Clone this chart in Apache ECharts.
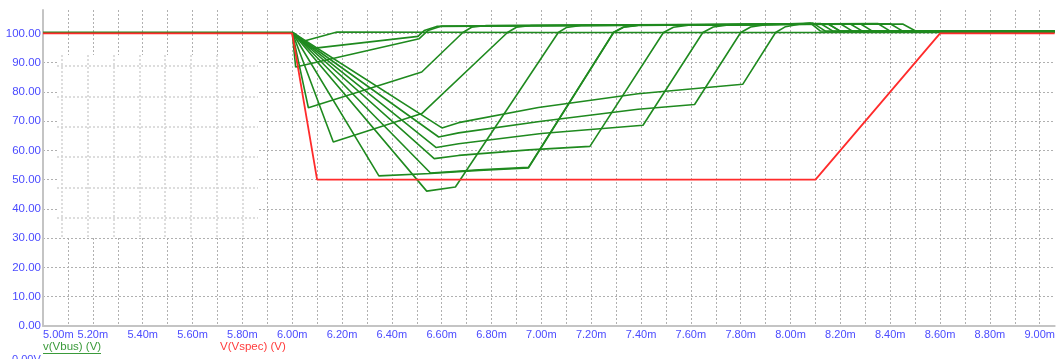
<!DOCTYPE html>
<html>
<head>
<meta charset="utf-8">
<script src="https://cdn.jsdelivr.net/npm/echarts@6/dist/echarts.min.js"></script>
<style>
  html, body { margin: 0; padding: 0; background: #ffffff; }
  #chart { width: 1058px; height: 359px; }
</style>
</head>
<body>
<div id="chart"></div>
<script>
// Trace names shown under the time axis
const traceNames = ['v(Vbus) (V)', 'V(Vspec) (V)'];

// Time axis (ms) and voltage axis (V)
const timeRange = [5.00, 9.06];
const timeStep = 0.1;
const voltRange = [0, 108];
const voltStep = 10;

// Bus voltage before the disturbance
const vbusPre = [[5.00, 100.4], [6.00, 100.4]];

// Bus voltage runs of the sweep, [time ms, volts]
const runA = [[6.00, 100.4], [6.048, 97.4], [6.18, 100.5], [7.00, 100.3], [9.06, 100.3]];
const runB = [[6.00, 100.4], [6.075, 94.8], [6.505, 99.0], [6.53, 101.0], [6.58, 102.4], [7.40, 102.8], [8.45, 103.2], [8.50, 100.9], [9.06, 100.8]];
const runC = [[6.00, 100.4], [6.014, 88.5], [6.51, 98.2], [6.545, 101.0], [6.60, 102.5], [7.60, 102.9], [8.40, 103.3], [8.45, 100.8], [9.06, 100.7]];
const runD = [[6.00, 100.4], [6.065, 74.6], [6.52, 86.8], [6.685, 100.3], [6.72, 102.1], [6.78, 102.7], [8.35, 103.4], [8.40, 100.8], [9.06, 100.7]];
const runE = [[6.00, 100.4], [6.165, 62.9], [6.52, 72.6], [6.864, 100.3], [6.90, 102.1], [6.96, 102.7], [8.28, 103.3], [8.33, 100.7], [9.06, 100.6]];
const runF = [[6.00, 100.4], [6.348, 51.3], [6.555, 52.1], [6.75, 53.2], [6.948, 54.0], [7.29, 100.3], [7.33, 102.1], [7.39, 102.7], [8.20, 103.3], [8.25, 100.7], [9.06, 100.6]];
const runG = [[6.00, 100.4], [6.54, 46.1], [6.655, 47.5], [7.068, 100.3], [7.10, 102.0], [7.16, 102.7], [8.24, 103.2], [8.29, 100.7], [9.06, 100.6]];
const runL = [[6.00, 100.4], [6.555, 52.3], [6.75, 53.4], [6.948, 54.2], [7.29, 100.4], [7.33, 102.2], [7.39, 102.8], [8.15, 103.3], [8.20, 100.8], [9.06, 100.7]];
const runK = [[6.00, 100.4], [6.57, 57.2], [6.668, 58.3], [6.95, 60.2], [7.195, 61.4], [7.49, 100.3], [7.53, 102.1], [7.59, 102.8], [8.15, 103.3], [8.20, 100.7], [9.06, 100.6]];
const runJ = [[6.00, 100.4], [6.578, 61.0], [6.668, 62.3], [7.00, 65.8], [7.408, 68.6], [7.648, 100.3], [7.69, 102.2], [7.75, 102.9], [8.12, 103.4], [8.17, 100.8], [9.06, 100.6]];
const runI = [[6.00, 100.4], [6.588, 64.6], [6.668, 66.0], [7.00, 70.0], [7.388, 74.1], [7.615, 75.7], [7.80, 100.3], [7.84, 102.2], [7.90, 103.0], [8.09, 103.5], [8.14, 100.8], [9.06, 100.7]];
const runH = [[6.00, 100.4], [6.601, 67.7], [6.668, 69.5], [6.988, 74.7], [7.388, 79.4], [7.808, 82.6], [7.94, 100.3], [7.98, 102.3], [8.04, 103.2], [8.08, 103.5], [8.12, 100.8], [9.06, 100.7]];

// Specification envelope, [time ms, volts]
const vspec = [[5.00, 100], [6.00, 100], [6.10, 50], [8.10, 50], [8.60, 100], [9.06, 100]];

const vbusRuns = [vbusPre, runA, runB, runC, runD, runE, runF, runG, runL, runK, runJ, runI, runH];

const GREEN = '#1f8a1f';
const RED = '#ff2b2b';
const BLUE = '#4b4bff';
const FONT = '"Liberation Sans", Arial, sans-serif';

const chart = echarts.init(document.getElementById('chart'), null, { renderer: 'canvas' });

const isMultiple = (v, step) => {
  const k = v / step;
  return Math.abs(k - Math.round(k)) < 1e-6;
};

const hidden = { show: false };

const series = vbusRuns.map(run => ({
  name: traceNames[0],
  type: 'line',
  data: run,
  xAxisIndex: 0,
  yAxisIndex: 0,
  showSymbol: false,
  symbol: 'none',
  lineStyle: { color: GREEN, width: 1.6 },
  silent: true,
  z: 2
}));
series.push({
  name: traceNames[1],
  type: 'line',
  data: vspec,
  xAxisIndex: 0,
  yAxisIndex: 0,
  showSymbol: false,
  symbol: 'none',
  lineStyle: { color: RED, width: 1.8 },
  silent: true,
  z: 3
});

chart.setOption({
  animation: false,
  backgroundColor: '#ffffff',
  grid: [
    { left: 43, right: 0, top: 10, bottom: 33, containLabel: false },
    // faint panel over the upper-left area
    { left: 57, top: 55, width: 201, height: 183, show: true, backgroundColor: '#ffffff', borderWidth: 0, z: 1 },
    { left: 62, top: 55, width: 196, height: 183, show: false, z: 1 },
    { left: 57, top: 66, width: 201, height: 172, show: false, z: 1 }
  ],
  xAxis: [
    {
      type: 'value', gridIndex: 0,
      min: timeRange[0], max: timeRange[1], interval: timeStep,
      axisLine: { show: true, onZero: false, lineStyle: { color: '#c4c4c4', width: 2 } },
      axisTick: { show: false },
      splitLine: { show: true, showMaxLine: false, lineStyle: { color: '#b0b0b0', width: 1, type: [2, 2] } },
      axisLabel: {
        show: true, interval: 0, margin: 3, color: BLUE, fontSize: 11, fontFamily: FONT,
        alignMinLabel: 'left', hideOverlap: false,
        formatter: v => (isMultiple(v, 0.2) ? v.toFixed(2) + 'm' : '')
      }
    },
    { type: 'value', gridIndex: 1, min: 0, max: 1, show: false },
    {
      type: 'value', gridIndex: 2, min: 0, max: 196, interval: 25.8, z: 1.5,
      axisLine: hidden, axisTick: hidden, axisLabel: hidden,
      splitLine: { show: true, showMaxLine: false, lineStyle: { color: '#d2d2d2', width: 1.5, type: [2, 2] } }
    },
    { type: 'value', gridIndex: 3, min: 0, max: 1, show: false }
  ],
  yAxis: [
    {
      type: 'value', gridIndex: 0,
      min: voltRange[0], max: voltRange[1], interval: voltStep,
      axisLine: { show: true, onZero: false, lineStyle: { color: '#c4c4c4', width: 2 } },
      axisTick: { show: false },
      splitLine: { show: true, showMaxLine: false, lineStyle: { color: '#b0b0b0', width: 1, type: [2, 2] } },
      axisLabel: {
        show: true, margin: 2, color: BLUE, fontSize: 11.5, fontFamily: FONT,
        formatter: v => (isMultiple(v, voltStep) ? v.toFixed(2) : '')
      }
    },
    { type: 'value', gridIndex: 1, min: 0, max: 1, show: false },
    { type: 'value', gridIndex: 2, min: 0, max: 1, show: false },
    {
      type: 'value', gridIndex: 3, inverse: true, min: 0, max: 172, interval: 30.4, z: 1.5,
      axisLine: hidden, axisTick: hidden, axisLabel: hidden,
      splitLine: { show: true, showMaxLine: false, lineStyle: { color: '#d2d2d2', width: 1.5, type: [2, 2] } }
    }
  ],
  graphic: [
    { type: 'text', left: 43, top: 341, z: 5, style: { text: traceNames[0], fill: '#3a9a3a', font: '11.5px ' + FONT } },
    { type: 'line', z: 5, shape: { x1: 43, y1: 353.5, x2: 101, y2: 353.5 }, style: { stroke: '#3a9a3a', lineWidth: 1 } },
    { type: 'text', left: 220, top: 341, z: 5, style: { text: traceNames[1], fill: '#ff3b3b', font: '11.5px ' + FONT } },
    { type: 'text', left: 12, top: 354, z: 5, style: { text: '0.00V', fill: BLUE, font: '11px ' + FONT } }
  ],
  series: series
});
</script>
</body>
</html>
